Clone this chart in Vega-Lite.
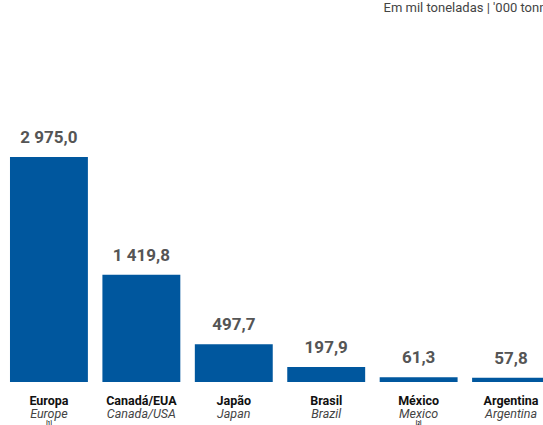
{
  "$schema": "https://vega.github.io/schema/vega-lite/v6.json",
  "width": 560,
  "height": 352,
  "autosize": {"type": "none"},
  "padding": {"left": 0, "top": 30, "right": 0, "bottom": 43},
  "title": {
    "text": "Em mil toneladas | '000 tonnes",
    "anchor": "end",
    "orient": "top",
    "fontSize": 13,
    "font": "Roboto",
    "fontWeight": "normal",
    "color": "#444444",
    "offset": 15
  },
  "config": {"view": {"stroke": null}},
  "data": {
    "values": [
      {"pt": "Europa", "en": "Europe", "note": "[1]", "value": 2975.0, "label": "2 975,0"},
      {"pt": "Canadá/EUA", "en": "Canada/USA", "note": "", "value": 1419.8, "label": "1 419,8"},
      {"pt": "Japão", "en": "Japan", "note": "", "value": 497.7, "label": "497,7"},
      {"pt": "Brasil", "en": "Brazil", "note": "", "value": 197.9, "label": "197,9"},
      {"pt": "México", "en": "Mexico", "note": "[2]", "value": 61.3, "label": "61,3"},
      {"pt": "Argentina", "en": "Argentina", "note": "", "value": 57.8, "label": "57,8"}
    ]
  },
  "encoding": {
    "x": {
      "field": "pt",
      "type": "nominal",
      "sort": null,
      "axis": null,
      "scale": {"paddingInner": 0.157, "paddingOuter": 0.108}
    }
  },
  "layer": [
    {
      "mark": {"type": "bar", "color": "#00579e"},
      "encoding": {
        "y": {"field": "value", "type": "quantitative", "scale": {"domain": [0, 4655], "nice": false}, "axis": null}
      }
    },
    {
      "mark": {"type": "text", "font": "Roboto", "fontWeight": "bold", "fontSize": 17, "color": "#555555", "baseline": "bottom", "dy": -10},
      "encoding": {
        "y": {"field": "value", "type": "quantitative"},
        "text": {"field": "label"}
      }
    },
    {
      "mark": {"type": "text", "font": "Roboto", "fontWeight": "bold", "fontSize": 12.5, "color": "#111111", "baseline": "middle", "dy": 18.5},
      "encoding": {
        "y": {"datum": 0, "type": "quantitative"},
        "text": {"field": "pt"}
      }
    },
    {
      "mark": {"type": "text", "font": "Roboto", "fontStyle": "italic", "fontSize": 12.5, "color": "#444444", "baseline": "middle", "dy": 32},
      "encoding": {
        "y": {"datum": 0, "type": "quantitative"},
        "text": {"field": "en"}
      }
    },
    {
      "mark": {"type": "text", "font": "Roboto", "fontWeight": "bold", "fontSize": 5, "color": "#222222", "baseline": "middle", "dy": 40.5},
      "encoding": {
        "y": {"datum": 0, "type": "quantitative"},
        "text": {"field": "note"}
      }
    }
  ]
}
